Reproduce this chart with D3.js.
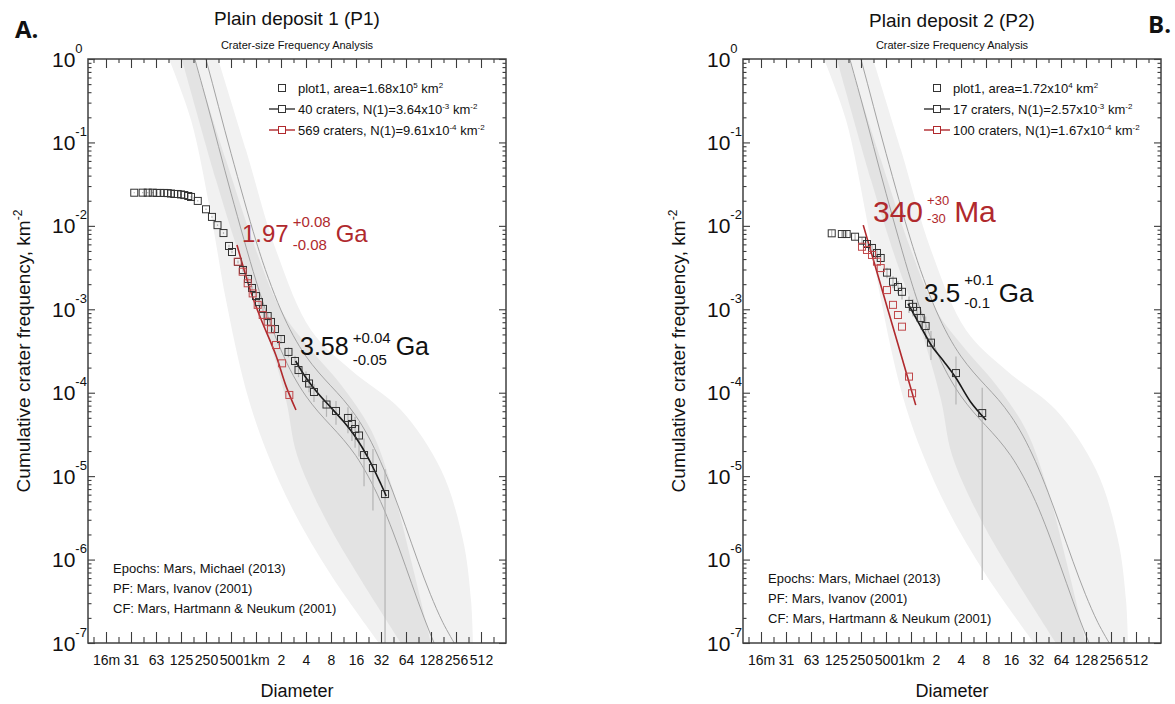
<!DOCTYPE html>
<html>
<head>
<meta charset="utf-8">
<script src="https://cdn.jsdelivr.net/npm/d3@7"></script>
<style>
  body { margin: 0; background: #fff; }
  svg text { font-family: "Liberation Sans", Arial, Helvetica, sans-serif; fill: #111; }
</style>
</head>
<body>
<svg id="chart" width="1175" height="704"></svg>
<script>
'use strict';

// ---- axis ticks
const diamTickValues = [0.015625, 0.03125, 0.0625, 0.125, 0.25, 0.5, 1, 2, 4, 8, 16, 32, 64, 128, 256, 512];
const diamTickLabels = ["16m", "31", "63", "125", "250", "500", "1km", "2", "4", "8", "16", "32", "64", "128", "256", "512"];
const freqExponents = [0, -1, -2, -3, -4, -5, -6, -7];

// ---- epoch overlay (Mars, Michael 2013): diameter km / cumulative frequency km^-2
const lightLeftD = [0.0896, 0.165, 0.287, 0.435, 0.758, 1.32, 2.79, 8, 30.3];
const lightLeftN = [1, 0.186, 0.0135, 1.29e-3, 1.08e-4, 2.06e-5, 3.93e-6, 6.53e-7, 1e-7];
const lightRightD = [0.349, 0.758, 1.74, 4.59, 13.9, 55.7, 169, 311, 388, 410];
const lightRightN = [1, 0.0811, 5.14e-3, 5.65e-4, 1.87e-4, 6.2e-5, 1.19e-5, 1.72e-6, 3.27e-7, 1e-7];
const midLeftD = [0.128, 0.33, 0.66, 1.32, 2.3, 3.12, 6.96, 18.4, 55.7];
const midLeftN = [1, 0.0355, 3.9e-3, 5.65e-4, 8.18e-5, 1.79e-5, 2.98e-6, 5.7e-7, 1e-7];
const midRightD = [0.179, 0.435, 1, 2, 4.59, 10.6, 24.3, 44.6, 73.5, 128];
const midRightN = [1, 0.0616, 5.14e-3, 9.8e-4, 3.25e-4, 1.24e-4, 3.57e-5, 6.8e-6, 9.9e-7, 1e-7];

const isoD = [0.126, 0.251, 0.501, 1, 1.413, 1.995, 2.818, 3.981, 5.623, 7.943, 11.22, 15.85, 22.39, 31.62, 44.67, 63.1, 89.13, 125.9, 177.8, 251.2];
const iso1N = [3.76, 0.324, 0.0245, 2.2e-3, 7.82e-4, 3.26e-4, 1.6e-4, 9.16e-5, 5.9e-5, 4.04e-5, 2.76e-5, 1.77e-5, 1.0e-5, 4.97e-6, 2.14e-6, 8.34e-7, 3.17e-7, 1.28e-7, 5.85e-8, 3.0e-8];
const iso2N = [11.3, 0.973, 0.0738, 6.61e-3, 2.35e-3, 9.8e-4, 4.81e-4, 2.75e-4, 1.77e-4, 1.21e-4, 8.3e-5, 5.31e-5, 3.02e-5, 1.49e-5, 6.43e-6, 2.51e-6, 9.53e-7, 3.84e-7, 1.76e-7, 9.5e-8];

// ---- P1
const p1Area = 1.68e5;
const p1D = [0.0342, 0.0432, 0.0497, 0.0571, 0.0637, 0.0703, 0.0786, 0.0865, 0.0947, 0.1038, 0.114, 0.125, 0.137, 0.153, 0.165, 0.199, 0.25, 0.295, 0.344, 0.406, 0.473, 0.514, 0.607, 0.697, 0.801, 0.895, 1.0, 1.087, 1.214, 1.383, 1.516, 1.693, 2.0, 2.46, 2.95, 3.25, 4.0, 4.35, 4.99, 7.06, 9.19, 12.8, 14.3, 15.6, 17.4, 20.0, 25.6, 35.8];
const p1N = [0.02496, 0.025, 0.025, 0.025, 0.0248, 0.0248, 0.0248, 0.0247, 0.0244, 0.0241, 0.0241, 0.0238, 0.0234, 0.0228, 0.0222, 0.0199, 0.0158, 0.0128, 0.0102, 8.2e-3, 5.74e-3, 4.86e-3, 3.69e-3, 2.96e-3, 2.31e-3, 1.80e-3, 1.44e-3, 1.22e-3, 1.01e-3, 8.3e-4, 7.05e-4, 5.8e-4, 4.4e-4, 3.08e-4, 2.40e-4, 1.87e-4, 1.50e-4, 1.29e-4, 1.02e-4, 7.22e-5, 6.04e-5, 4.98e-5, 4.22e-5, 3.67e-5, 3.07e-5, 1.79e-5, 1.25e-5, 6.1e-6];
const p1RedD = [0.602, 0.691, 0.794, 0.912, 1.048, 1.204, 1.383, 1.516, 1.741, 2.06, 2.52];
const p1RedN = [3.72e-3, 2.82e-3, 2.05e-3, 1.55e-3, 1.13e-3, 8.55e-4, 7.1e-4, 5.75e-4, 3.73e-4, 2.25e-4, 9.4e-5];
const p1FitD = [3.0, 4.0, 5.6, 8.0, 11.2, 16, 22.4, 32, 37];
const p1FitN = [2.40e-4, 1.51e-4, 9.77e-5, 6.62e-5, 4.57e-5, 2.89e-5, 1.66e-5, 8.0e-6, 5.77e-6];
const p1RedFitD = [0.59, 0.87, 1.15, 1.74, 2.3, 3.03];
const p1RedFitN = [5.9e-3, 1.6e-3, 7.6e-4, 2.8e-4, 1.2e-4, 6.2e-5];

// ---- P2
const p2Area = 1.72e4;
const p2D = [0.111, 0.147, 0.168, 0.212, 0.257, 0.295, 0.339, 0.389, 0.432, 0.514, 0.607, 0.697, 0.779, 0.946, 1.057, 1.18, 1.31, 1.50, 1.74, 3.48, 7.2];
const p2N = [8.14e-3, 7.98e-3, 7.98e-3, 7.41e-3, 6.64e-3, 6.06e-3, 5.43e-3, 4.73e-3, 4.12e-3, 2.75e-3, 2.14e-3, 1.85e-3, 1.62e-3, 1.16e-3, 1.07e-3, 9.55e-4, 7.87e-4, 6.3e-4, 3.98e-4, 1.72e-4, 5.7e-5];
const p2RedD = [0.257, 0.295, 0.339, 0.389, 0.432, 0.514, 0.607, 0.697, 0.779, 0.946, 1.03];
const p2RedN = [5.62e-3, 5.14e-3, 4.48e-3, 3.72e-3, 3.12e-3, 1.70e-3, 1.13e-3, 8.54e-4, 6.19e-4, 1.56e-4, 9.85e-5];
const p2FitD = [0.92, 1.3, 1.79, 2.5, 3.48, 5.2, 8.0];
const p2FitN = [1.17e-3, 6.3e-4, 3.6e-4, 2.35e-4, 1.5e-4, 7.8e-5, 4.7e-5];
const p2RedFitD = [0.266, 0.4, 0.7, 1.14];
const p2RedFitN = [1.02e-2, 2.54e-3, 3.75e-4, 7.1e-5];

const refLines = ["Epochs: Mars, Michael (2013)", "PF: Mars, Ivanov (2001)", "CF: Mars, Hartmann & Neukum (2001)"];

const RED = "#b0292d";
const W = 418, H = 584, TOP = 59;
const svg = d3.select("#chart");

// text with ^{...} superscripts
function addRich(sel, str, supSize, shift) {
    const parts = str.split(/(\^\{[^}]*\})/).filter(s => s.length);
    let raised = false;
    parts.forEach(p => {
        if (p.startsWith("^{")) {
            sel.append("tspan").attr("font-size", supSize).attr("dy", raised ? 0 : -shift).text(p.slice(2, -1));
            raised = true;
        } else {
            sel.append("tspan").attr("dy", raised ? shift : 0).text(p);
            raised = false;
        }
    });
}

function drawPanel(p) {
    const left = p.left;
    const x = d3.scaleLog().base(2).domain([Math.pow(2, -6.72), 1024]).range([left, left + W]);
    const y = d3.scaleLog().domain([1e-7, 1]).range([TOP + H, TOP]);
    const g = svg.append("g");

    svg.append("clipPath").attr("id", "clip-" + p.id)
        .append("rect").attr("x", left).attr("y", TOP).attr("width", W).attr("height", H);
    const plot = g.append("g").attr("clip-path", `url(#clip-${p.id})`);

    const line = d3.line().x(d => x(d[0])).y(d => y(d[1])).curve(d3.curveCatmullRom.alpha(0.5));
    function band(lD, lN, rD, rN) {
        const a = line(d3.zip(lD, lN));
        const b = line(d3.zip(rD, rN).reverse()).replace(/^M/, "L");
        return a + b + "Z";
    }

    // epoch shading
    plot.append("path").attr("d", band(lightLeftD, lightLeftN, lightRightD, lightRightN)).attr("fill", "#f1f1f1");
    plot.append("path").attr("d", band(midLeftD, midLeftN, midRightD, midRightN)).attr("fill", "#e3e3e3");
    [iso1N, iso2N].forEach(n => {
        plot.append("path").attr("d", line(d3.zip(isoD, n)))
            .attr("fill", "none").attr("stroke", "#a3a3a3").attr("stroke-width", 1);
    });

    // error bars (black series)
    const bars = p.D.map((d, i) => {
        const s = Math.sqrt(p.N[i] / p.area);
        return { d: d, lo: p.N[i] - s > 0 ? p.N[i] - s : p.N[i] / 100, hi: p.N[i] + s };
    });
    plot.selectAll(".err").data(bars).enter().append("line")
        .attr("x1", d => x(d.d)).attr("x2", d => x(d.d))
        .attr("y1", d => y(Math.max(d.lo, 1e-8))).attr("y2", d => y(d.hi))
        .attr("stroke", "#b4b4b4").attr("stroke-width", 1.2);

    // fits
    plot.append("path").attr("d", line(d3.zip(p.redFitD, p.redFitN)))
        .attr("fill", "none").attr("stroke", RED).attr("stroke-width", 1.6);
    plot.append("path").attr("d", line(d3.zip(p.fitD, p.fitN)))
        .attr("fill", "none").attr("stroke", "#1a1a1a").attr("stroke-width", 1.6);

    // data squares
    const sq = 7;
    plot.selectAll(".blk").data(d3.zip(p.D, p.N)).enter().append("rect")
        .attr("x", d => x(d[0]) - sq / 2).attr("y", d => y(d[1]) - sq / 2)
        .attr("width", sq).attr("height", sq)
        .attr("fill", "none").attr("stroke", "#333").attr("stroke-width", 1);
    plot.selectAll(".red").data(d3.zip(p.redD, p.redN)).enter().append("rect")
        .attr("x", d => x(d[0]) - sq / 2).attr("y", d => y(d[1]) - sq / 2)
        .attr("width", sq).attr("height", sq)
        .attr("fill", "none").attr("stroke", "#c0474a").attr("stroke-width", 1);

    // ticks on all four sides
    const minorX = diamTickValues.map(v => v * Math.SQRT2).concat([diamTickValues[0] / Math.SQRT2]);
    const majorY = freqExponents.map(e => Math.pow(10, e));
    const minorY = [];
    freqExponents.slice(1).forEach(e => { for (let k = 2; k <= 9; k++) minorY.push(k * Math.pow(10, e)); });

    function ticks(axis, tr, size) {
        const a = g.append("g").attr("transform", tr).call(axis.tickSize(size).tickFormat(""));
        a.select(".domain").remove();
        a.selectAll("line").attr("stroke", "#3c3c3c").attr("stroke-width", 1.1);
    }
    ticks(d3.axisTop(x).tickValues(diamTickValues), `translate(0,${TOP + H})`, 11);
    ticks(d3.axisTop(x).tickValues(minorX), `translate(0,${TOP + H})`, 6);
    ticks(d3.axisBottom(x).tickValues(diamTickValues), `translate(0,${TOP})`, 9);
    ticks(d3.axisBottom(x).tickValues(minorX), `translate(0,${TOP})`, 4);
    ticks(d3.axisRight(y).tickValues(majorY), `translate(${left},0)`, 7);
    ticks(d3.axisRight(y).tickValues(minorY), `translate(${left},0)`, 3.5);
    ticks(d3.axisLeft(y).tickValues(majorY), `translate(${left + W},0)`, 7);
    ticks(d3.axisLeft(y).tickValues(minorY), `translate(${left + W},0)`, 3.5);

    g.append("rect").attr("x", left).attr("y", TOP).attr("width", W).attr("height", H)
        .attr("fill", "none").attr("stroke", "#404040").attr("stroke-width", 1.5);

    // tick labels
    const xl = g.append("g").attr("transform", `translate(0,${TOP + H})`)
        .call(d3.axisBottom(x).tickValues(diamTickValues).tickSize(0).tickPadding(12)
            .tickFormat((d, i) => diamTickLabels[i]));
    xl.select(".domain").remove();
    xl.selectAll("text").attr("font-size", 14).attr("font-family", null).attr("fill", "#111");

    const yl = g.append("g").attr("transform", `translate(${left},0)`)
        .call(d3.axisLeft(y).tickValues(majorY).tickSize(0).tickFormat(""));
    yl.select(".domain").remove();
    yl.selectAll(".tick text").each(function (d, i) {
        const t = d3.select(this).attr("text-anchor", "start").attr("x", -36)
            .attr("dy", null).attr("y", 7).attr("font-size", 21).attr("font-family", null).attr("fill", "#111");
        t.text("10");
        t.append("tspan").attr("font-size", 13).attr("dy", -14).text(String(freqExponents[i]));
    });

    // titles
    g.append("text").attr("x", left + W / 2).attr("y", p.titleY).attr("text-anchor", "middle")
        .attr("font-size", 19).text(p.title);
    g.append("text").attr("x", left + W / 2).attr("y", 49).attr("text-anchor", "middle")
        .attr("font-size", 11).text("Crater-size Frequency Analysis");
    g.append("text").attr("x", left + W / 2).attr("y", 697).attr("text-anchor", "middle")
        .attr("font-size", 18).text("Diameter");
    const yt = g.append("text").attr("transform", `translate(${left - 58},${TOP + H / 2}) rotate(-90)`)
        .attr("text-anchor", "middle").attr("font-size", 19);
    addRich(yt, "Cumulative crater frequency, km^{-2}", 12, 8);

    // legend
    const lx = left + 194;
    p.legend.forEach((row, i) => {
        const ly = 88 + i * 21;
        if (row.line) {
            g.append("line").attr("x1", lx - 13).attr("x2", lx + 13).attr("y1", ly).attr("y2", ly)
                .attr("stroke", row.line).attr("stroke-width", 1.4);
        }
        g.append("rect").attr("x", lx - 3.5).attr("y", ly - 3.5).attr("width", 7).attr("height", 7)
            .attr("fill", "#fff").attr("stroke", row.line || "#333").attr("stroke-width", 1);
        const t = g.append("text").attr("x", lx + 16).attr("y", ly + 5).attr("font-size", 13);
        addRich(t, row.text, 8, 5);
    });

    // reference lines, bottom left
    refLines.forEach((s, i) => {
        g.append("text").attr("x", left + 25).attr("y", p.refY + i * 20).attr("font-size", 13).text(s);
    });

    // age labels
    p.ages.forEach(a => {
        const m = g.append("text").attr("x", a.x).attr("y", a.y).attr("font-size", a.size)
            .style("fill", a.color).text(a.main);
        const mw = m.node().getComputedTextLength();
        const sx = a.x + mw + 4;
        const s1 = g.append("text").attr("x", sx).attr("y", a.y + a.supDy).attr("font-size", a.small)
            .style("fill", a.color).text(a.sup);
        const s2 = g.append("text").attr("x", sx).attr("y", a.y + a.subDy).attr("font-size", a.small)
            .style("fill", a.color).text(a.sub);
        const sw = Math.max(s1.node().getComputedTextLength(), s2.node().getComputedTextLength());
        g.append("text").attr("x", sx + sw + 5).attr("y", a.y).attr("font-size", a.size)
            .style("fill", a.color).text(a.unit);
    });
}

drawPanel({
    id: "p1", left: 88, title: "Plain deposit 1 (P1)", titleY: 25, refY: 573, area: p1Area,
    D: p1D, N: p1N, redD: p1RedD, redN: p1RedN,
    fitD: p1FitD, fitN: p1FitN, redFitD: p1RedFitD, redFitN: p1RedFitN,
    legend: [
        { text: "plot1, area=1.68x10^{5} km^{2}" },
        { line: "#333", text: "40 craters, N(1)=3.64x10^{-3} km^{-2}" },
        { line: RED, text: "569 craters, N(1)=9.61x10^{-4} km^{-2}" }
    ],
    ages: [
        { x: 242, y: 242, size: 24, small: 15, supDy: -15, subDy: 8, main: "1.97", sup: "+0.08", sub: "-0.08", unit: "Ga", color: RED },
        { x: 300, y: 355, size: 25, small: 15, supDy: -12, subDy: 10, main: "3.58", sup: "+0.04", sub: "-0.05", unit: "Ga", color: "#111" }
    ]
});

drawPanel({
    id: "p2", left: 743, title: "Plain deposit 2 (P2)", titleY: 27, refY: 583, area: p2Area,
    D: p2D, N: p2N, redD: p2RedD, redN: p2RedN,
    fitD: p2FitD, fitN: p2FitN, redFitD: p2RedFitD, redFitN: p2RedFitN,
    legend: [
        { text: "plot1, area=1.72x10^{4} km^{2}" },
        { line: "#333", text: "17 craters, N(1)=2.57x10^{-3} km^{-2}" },
        { line: RED, text: "100 craters, N(1)=1.67x10^{-4} km^{-2}" }
    ],
    ages: [
        { x: 873, y: 222, size: 30, small: 13, supDy: -17, subDy: 1, main: "340", sup: "+30", sub: "-30", unit: "Ma", color: RED },
        { x: 924, y: 302, size: 26, small: 15, supDy: -17, subDy: 6, main: "3.5", sup: "+0.1", sub: "-0.1", unit: "Ga", color: "#111" }
    ]
});

// panel letters
svg.append("text").attr("x", 15).attr("y", 38).attr("font-size", 24).attr("font-weight", "bold")
    .style("font-family", "'Open Sans', sans-serif").text("A.");
svg.append("text").attr("x", 1148).attr("y", 33).attr("font-size", 24).attr("font-weight", "bold")
    .style("font-family", "'Open Sans', sans-serif").text("B.");
</script>
</body>
</html>
